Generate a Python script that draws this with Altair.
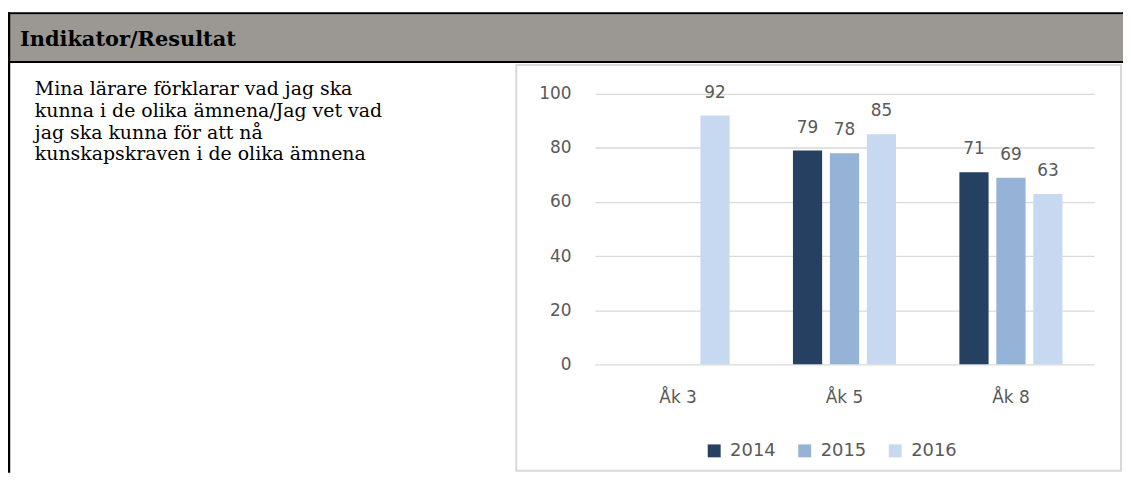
import altair as alt
import pandas as pd

# ---- data ----
categories = ["Åk 3", "Åk 5", "Åk 8"]
years = ["2014", "2015", "2016"]
values_2014 = [None, 79, 71]
values_2015 = [None, 78, 69]
values_2016 = [92, 85, 63]
year_colors = ["#254061", "#95B3D7", "#C6D9F1"]
y_ticks = [0, 20, 40, 60, 80, 100]

header_text = "Indikator/Resultat"
paragraph_lines = [
    "Mina lärare förklarar vad jag ska",
    "kunna i de olika ämnena/Jag vet vad",
    "jag ska kunna för att nå",
    "kunskapskraven i de olika ämnena",
]

rows = []
for yr, vals in zip(years, [values_2014, values_2015, values_2016]):
    for cat, v in zip(categories, vals):
        if v is not None:
            rows.append({"grade": cat, "year": yr, "value": v})
df = pd.DataFrame(rows)
one = pd.DataFrame({"k": [0]})

GREY_TXT = "#595959"
SANS = "DejaVu Sans"
SERIF = "DejaVu Serif"

W, H = 502, 272
PAD_L, PAD_T = 590, 85
TOTAL_W, TOTAL_H = 1121, 466
PAD_R = TOTAL_W - PAD_L - W
PAD_B = TOTAL_H - PAD_T - H

# ---- decorations (table frame) ----
header_band = alt.Chart(one).mark_rect(color="#9B9792").encode(
    x=alt.value(-PAD_L), x2=alt.value(W + PAD_R), y=alt.value(-80), y2=alt.value(-33)
)
header_top = alt.Chart(one).mark_rule(color="black", strokeWidth=2).encode(
    x=alt.value(-PAD_L), x2=alt.value(W + PAD_R), y=alt.value(-81)
)
header_bottom = alt.Chart(one).mark_rule(color="black", strokeWidth=2).encode(
    x=alt.value(-PAD_L), x2=alt.value(W + PAD_R), y=alt.value(-32)
)
left_border = alt.Chart(one).mark_rule(color="black", strokeWidth=2.5).encode(
    x=alt.value(-PAD_L + 1), y=alt.value(-82), y2=alt.value(H + PAD_B)
)
chart_box = alt.Chart(one).mark_rect(
    filled=False, stroke="#D9D9D9", strokeWidth=2
).encode(
    x=alt.value(-79), x2=alt.value(W + PAD_R - 2), y=alt.value(-29), y2=alt.value(H + PAD_B - 2)
)
header_label = alt.Chart(one).mark_text(
    text=header_text, font=SERIF, fontWeight="bold", fontSize=21,
    align="left", baseline="alphabetic", color="black"
).encode(x=alt.value(-PAD_L + 12), y=alt.value(-48))
paragraph = alt.Chart(one).mark_text(
    text=paragraph_lines, font=SERIF, fontSize=19, lineHeight=22,
    align="left", baseline="alphabetic", color="black"
).encode(x=alt.value(-PAD_L + 27), y=alt.value(1))

# ---- bar chart ----
base = alt.Chart(df).encode(
    x=alt.X(
        "grade:N",
        sort=categories,
        scale=alt.Scale(domain=categories, paddingInner=0, paddingOuter=0),
        axis=alt.Axis(
            title=None, labelAngle=0, domain=False, ticks=False, tickSize=0,
            labelPadding=38, labelBaseline="alphabetic", labelFont=SANS,
            labelFontSize=17, labelColor=GREY_TXT,
        ),
    ),
    xOffset=alt.XOffset(
        "year:N", scale=alt.Scale(domain=years, paddingInner=0.21, paddingOuter=0.857)
    ),
    y=alt.Y(
        "value:Q",
        scale=alt.Scale(domain=[0, 100]),
        axis=alt.Axis(
            title=None, values=y_ticks, domain=False, ticks=False, tickSize=0,
            labelPadding=24, labelFont=SANS, labelFontSize=17, labelColor=GREY_TXT,
            gridColor="#D9D9D9", gridWidth=1.3,
        ),
    ),
)

bars = base.mark_bar().encode(
    color=alt.Color(
        "year:N",
        scale=alt.Scale(domain=years, range=year_colors),
        legend=alt.Legend(
            title=None, orient="none", legendX=111, legendY=350,
            direction="horizontal", symbolType="square", symbolSize=169,
            symbolStrokeWidth=0, labelFont=SANS, labelFontSize=18,
            labelColor=GREY_TXT, labelOffset=7, columnPadding=20, padding=0,
        ),
    )
)
labels = base.mark_text(
    dy=-18, baseline="alphabetic", font=SANS, fontSize=17, color=GREY_TXT
).encode(text="value:Q")

chart = alt.layer(
    header_band, header_top, header_bottom, left_border, chart_box,
    header_label, paragraph, bars, labels,
).properties(
    width=W, height=H,
    padding={"left": PAD_L, "top": PAD_T, "right": PAD_R, "bottom": PAD_B},
    autosize=alt.AutoSizeParams(type="none"),
    background="white",
).configure_view(strokeWidth=0)

chart.save("out.html", embed_options={"renderer": "svg", "actions": False})
